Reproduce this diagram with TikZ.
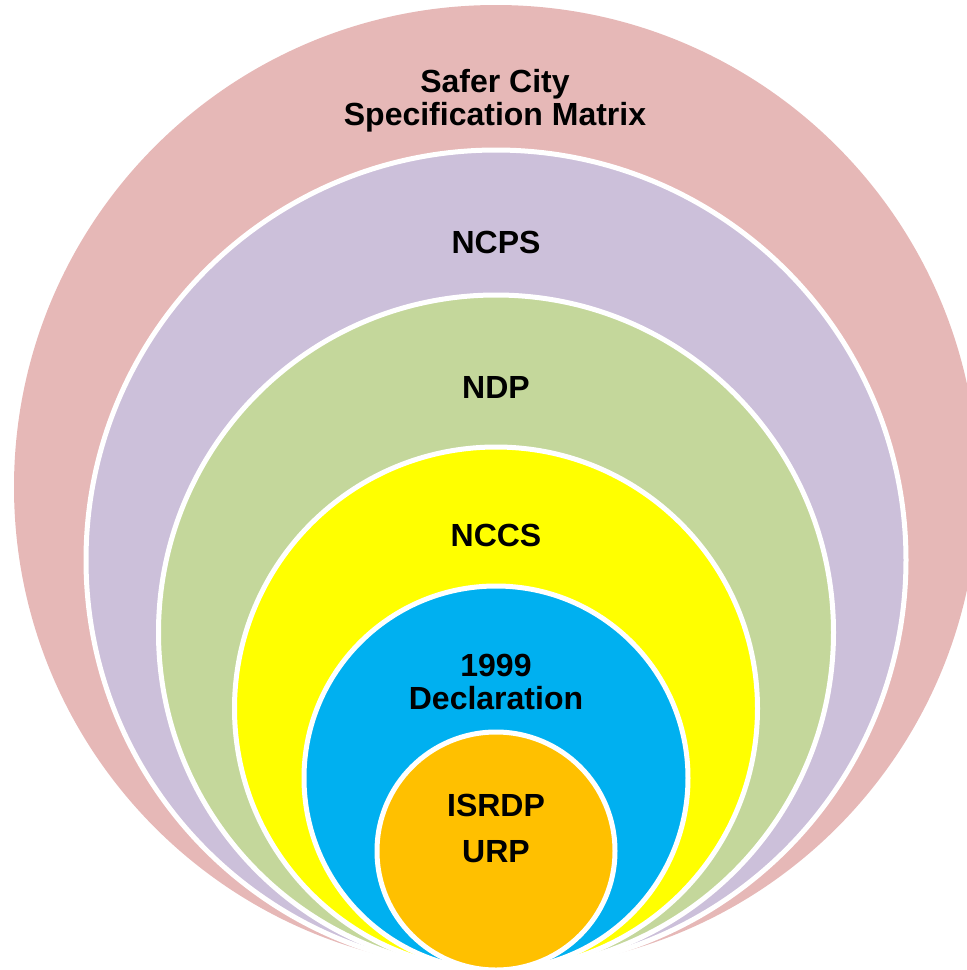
\documentclass[tikz,border=0pt]{standalone}
\usepackage{fontspec}
\setmainfont{Liberation Sans}
\definecolor{cpink}{HTML}{E6B8B7}
\definecolor{cpurple}{HTML}{CCC0DA}
\definecolor{cgreen}{HTML}{C4D79B}
\definecolor{cyellow}{HTML}{FFFF00}
\definecolor{cblue}{HTML}{00B0F0}
\definecolor{corange}{HTML}{FFC000}
\begin{document}
\begin{tikzpicture}[x=1pt,y=-1pt,
  ring/.style={circle,draw=white,line width=5pt,inner sep=0pt,outer sep=0pt,minimum size=#1},
  lbl/.style={font=\bfseries\fontsize{32}{33}\selectfont,align=center,text=black,inner sep=0pt}]
\useasboundingbox (0,0) rectangle (967,970);
\clip (0,0) rectangle (967,970);
\node[ring=964pt,fill=cpink,draw=none] (c1) at (496,487) {};
\node[ring=820pt,fill=cpurple] (c2) at (496,560) {};
\node[ring=675pt,fill=cgreen] (c3) at (496,632.5) {};
\node[ring=523pt,fill=cyellow] (c4) at (496,708.5) {};
\node[ring=384pt,fill=cblue] (c5) at (496,778) {};
\node[ring=238pt,fill=corange] (c6) at (496,851) {};
\node[lbl] (t1) at (495,101) {Safer City\\Specification Matrix};
\node[lbl] (t2) at (496,242) {NCPS};
\node[lbl] (t3) at (496,387) {NDP};
\node[lbl] (t4) at (496,535) {NCCS};
\node[lbl] (t5) at (496,682) {1999\\Declaration};
\node[lbl] (t6) at (496,805) {ISRDP};
\node[lbl] (t7) at (496,852) {URP};
\end{tikzpicture}
\end{document}
